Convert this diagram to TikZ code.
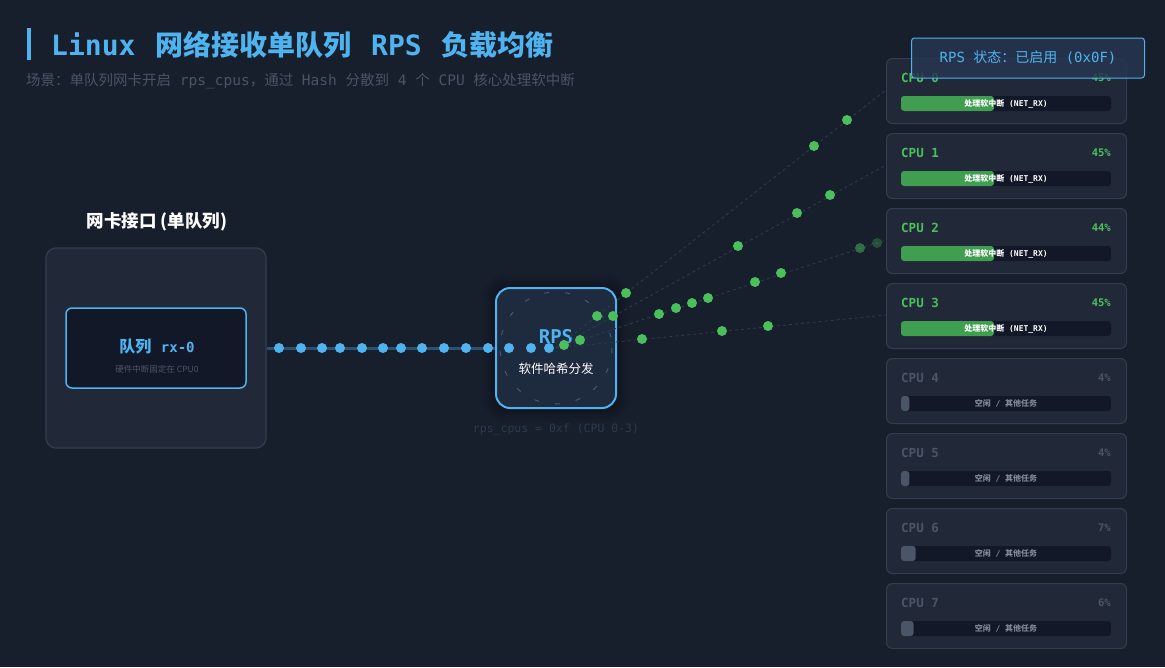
\documentclass[tikz,border=0pt]{standalone}
\usepackage{fontspec}
\setmainfont{DejaVu Sans Mono}
\newfontfamily\cjk{Noto Sans CJK SC}
\newfontfamily\mono{DejaVu Sans Mono}
\usetikzlibrary{shadows.blur}
\definecolor{bg}{HTML}{171E2C}
\definecolor{acc}{HTML}{4FB3F0}
\definecolor{sub}{HTML}{4A5568}
\definecolor{card}{HTML}{212939}
\definecolor{cardb}{HTML}{343D50}
\definecolor{barbg}{HTML}{121828}
\definecolor{grn}{HTML}{3F9E50}
\definecolor{gdot}{HTML}{4BBF5A}
\definecolor{dim}{HTML}{2E3A4C}
\begin{document}
\begin{tikzpicture}[x=1pt,y=-1pt,
  card/.style={draw=cardb,line width=1pt,fill=card,rounded corners=6pt,minimum width=240pt,minimum height=65pt,anchor=north west,inner sep=0pt},
  bdot/.style={circle,fill=acc,inner sep=0pt,minimum size=10pt},
  gd/.style={circle,fill=gdot,inner sep=0pt,minimum size=10pt},
  link/.style={draw=dim,dashed,line width=0.9pt}]
\fill[bg] (0,0) rectangle (1165,667);
\useasboundingbox (0,0) rectangle (1165,667);
% title
\fill[acc] (27,28) rectangle (31,60);
\node[anchor=west,text=acc,font=\fontsize{28}{32}\selectfont,inner sep=0] (title) at (51,45) {{\mono\bfseries Linux}\hspace{3pt} {\cjk\bfseries 网络接收单队列}\hspace{3pt} {\mono\bfseries RPS}\hspace{3pt} {\cjk\bfseries 负载均衡}};
\node[anchor=west,text=sub,font=\fontsize{14.5}{17}\selectfont,inner sep=0] (subt) at (26,81) {{\cjk 场景：单队列网卡开启} rps\_cpus{\cjk ，通过} Hash {\cjk 分散到} 4 {\cjk 个} CPU {\cjk 核心处理软中断}};
% NIC
\node[text=white,font=\cjk\fontsize{17.5}{19}\selectfont\bfseries] (niclbl) at (157,222) {网卡接口\hspace{4pt}(单队列)};
\node[draw=cardb,line width=1.2pt,fill=card,rounded corners=10pt,minimum width=220pt,minimum height=200pt] (nic) at (156,348) {};
\node[draw=acc,line width=1.5pt,fill=barbg,rounded corners=6pt,minimum width=180pt,minimum height=80pt] (q) at (156,348) {};
\node[text=acc,font=\fontsize{16}{18}\selectfont\bfseries] (qlbl) at (157,347) {{\cjk 队列} {\fontsize{14}{16}\selectfont rx-0}};
\node[text=sub,font=\cjk\fontsize{8.5}{10}\selectfont] (qsub) at (157,369) {硬件中断固定在 CPU0};
% RPS
\node[draw=acc,line width=2pt,fill={rgb,255:red,30;green,42;blue,61},rounded corners=14pt,minimum width=120pt,minimum height=120pt,blur shadow={shadow blur steps=8,shadow xshift=0pt,shadow yshift=0pt,shadow blur radius=8pt,shadow opacity=40,shadow scale=1.08}] (rps) at (556,348) {};
\draw[dim!70!acc,dashed,dash pattern=on 5pt off 16pt,line width=1pt] (rps.center) circle (56);
\draw[acc!35!bg,line width=3pt] (nic.east) -- (rps.west);
\foreach \x in {279,301,322,340,362,383,401,422,444,466,488,509,531,549} \node[bdot] at (\x,348) {};
\node[text=acc,font=\fontsize{19}{22}\selectfont\bfseries] (rpslbl) at (556,337) {RPS};
\node[text=white,font=\cjk\fontsize{12.5}{14}\selectfont] (rpssub) at (556,369) {软件哈希分发};
\node[text=dim,font=\fontsize{11.5}{13}\selectfont] (mask) at (556,429) {rps\_cpus = 0xf (CPU 0-3)};
% cards
\foreach \i/\p/\act in {0/45/1,1/45/1,2/44/1,3/45/1,4/4/0,5/4/0,6/7/0,7/6/0}{
  \pgfmathsetmacro\yy{58+75*\i}
  \node[card] (c\i) at (886,\yy) {};
  \ifnum\act=1 \def\tc{gdot}\else\def\tc{sub}\fi
  \node[anchor=west,text=\tc,font=\fontsize{12.5}{14}\selectfont\bfseries,inner sep=0] (cn\i) at (901,\yy+20) {CPU \i};
  \node[anchor=east,text=\tc,font=\fontsize{10.5}{12}\selectfont\bfseries,inner sep=0] (cp\i) at (1111,\yy+20) {\p\%};
  \fill[barbg,rounded corners=3pt] (901,\yy+38) rectangle (1111,\yy+53);
  \ifnum\act=1
    \fill[grn,rounded corners=3pt] (901,\yy+38) rectangle (994,\yy+53);
    \node[text=white,font=\fontsize{8}{9}\selectfont\bfseries] (cb\i) at (1006,\yy+45.5) {{\cjk 处理软中断} (NET\_RX)};
  \else
    \pgfmathsetmacro\w{max(8,2.1*\p)}
    \fill[sub,rounded corners=3pt] (901,\yy+38) rectangle (901+\w,\yy+53);
    \node[text=sub!70!white,font=\fontsize{8}{9}\selectfont\bfseries] (cb\i) at (1006,\yy+45.5) {{\cjk 空闲} / {\cjk 其他任务}};
  \fi
}
\foreach \i/\yy in {0/90,1/165,2/240,3/315}{
  \coordinate (e\i) at (886,\yy);
  \draw[link] (rps.center) -- (e\i);
}
\foreach \x/\y in {564/345,580/340,597/316,613/316,626/293,642/339,659/314,676/308,692/303,708/298,722/331,738/246,755/282,768/326,781/273,797/213,814/146,830/195,847/120}
  \node[gd] at (\x,\y) {};
\node[gd,opacity=0.5] at (860,248) {};
\node[gd,opacity=0.3] at (877,243) {};
% status
\node[draw=acc,line width=1pt,fill={rgb,255:red,38;green,54;blue,80},fill opacity=0.85,text opacity=1,rounded corners=3pt,minimum width=233pt,minimum height=40pt,text=acc,font=\fontsize{14}{16}\selectfont] (status) at (1028,58) {RPS {\cjk 状态：已启用} (0x0F)};
\end{tikzpicture}
\end{document}
